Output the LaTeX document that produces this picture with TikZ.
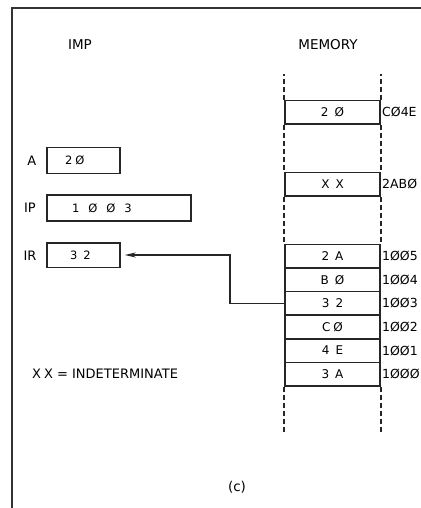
\documentclass[tikz,border=0pt]{standalone}
\usepackage{fontspec}
\setmainfont{DejaVu Sans}
\usetikzlibrary{arrows.meta}
\newcommand\sgap{\hspace{6pt}}
\newcommand\wgap{\hspace{9pt}}
\tikzset{
  frameline/.style={line width=1.5pt, draw=black!80},
  memcell/.style={draw=black!85, line width=1.6pt, minimum width=95pt, minimum height=23.6pt, inner sep=0pt, font=\fontsize{12}{13}\selectfont},
  memdash/.style={draw=black!85, line width=1.8pt, dash pattern=on 5pt off 3pt},
  addr/.style={anchor=west, inner sep=0pt, font=\fontsize{12.5}{13}\selectfont},
  reg/.style={draw=black!85, line width=1.6pt, inner ysep=0pt, align=left, font=\fontsize{11.5}{12}\selectfont},
  reglabel/.style={inner sep=0pt, font=\fontsize{13}{14}\selectfont},
  title/.style={inner sep=0pt, font=\fontsize{13.5}{14}\selectfont},
  link/.style={draw=black!85, line width=1.2pt, -{Stealth[length=11pt,width=5pt]}, shorten >=4pt}
}
\begin{document}
\begin{tikzpicture}[x=1pt,y=-1pt]
\useasboundingbox[fill=white!95!black!3] (0,0) rectangle (420,508);
% frame
\draw[frameline] (430,8) -- (12,8) -- (12,520);
% titles
\node[title] (imp) at (80,45) {IMP};
\node[title] (mem) at (328,45) {MEMORY};
% memory cells
\node[memcell] (c20) at (332.5,112.3) {2\sgap Ø};
\node[memcell] (cXX) at (332.5,184.4) {X\sgap X};
\node[memcell] (c2A) at (332.5,256.1) {2\sgap A};
\node[memcell] (cB0) at (332.5,279.7) {B\sgap Ø};
\node[memcell] (c32) at (332.5,303.3) {3\sgap 2};
\node[memcell] (cC0) at (332.5,326.9) {C\hspace{3pt}Ø};
\node[memcell] (c4E) at (332.5,350.5) {4\sgap E};
\node[memcell] (c3A) at (332.5,374.1) {3\sgap A};
% addresses
\node[addr] (aC04E) at (382,112.3) {CØ4E};
\node[addr] (a2AB0) at (382,184.4) {2ABØ};
\node[addr] (a1005) at (382,256.1) {1ØØ5};
\node[addr] (a1004) at (382,279.7) {1ØØ4};
\node[addr] (a1003) at (382,303.3) {1ØØ3};
\node[addr] (a1002) at (382,326.9) {1ØØ2};
\node[addr] (a1001) at (382,350.5) {1ØØ1};
\node[addr] (a1000) at (382,374.1) {1ØØØ};
% dashed continuation
\draw[memdash] (c20.north west) -- ++(0,-26) (c20.north east) -- ++(0,-26);
\draw[memdash] (c20.south west) -- (cXX.north west) (c20.south east) -- (cXX.north east);
\draw[memdash] (cXX.south west) -- (c2A.north west) (cXX.south east) -- (c2A.north east);
\draw[memdash] (c3A.south west) -- ++(0,46) (c3A.south east) -- ++(0,46);
% registers
\node[reg, minimum height=26pt, inner xsep=18pt, text width=37pt] (A) at (83.5,160.3) {2\hspace{3pt}Ø};
\node[reg, minimum height=25.7pt, inner xsep=25pt, text width=93.7pt] (IP) at (118.85,207.85) {1\wgap Ø\wgap Ø\wgap 3};
\node[reg, minimum height=24.6pt, inner xsep=23pt, text width=27pt] (IR) at (83.5,255) {3\sgap 2};
\node[reglabel] (lA) at (31.7,161) {A};
\node[reglabel] (lIP) at (30,208) {IP};
\node[reglabel] (lIR) at (30,256) {IR};
% connector
\draw[link] (c32.west) -- ++(-54.3,0) |- (IR.east);
% note and caption
\node[reglabel, anchor=west] (note) at (32,374) {X\hspace{3pt}X = INDETERMINATE};
\node[title] (cap) at (237,487) {(c)};
\end{tikzpicture}
\end{document}
